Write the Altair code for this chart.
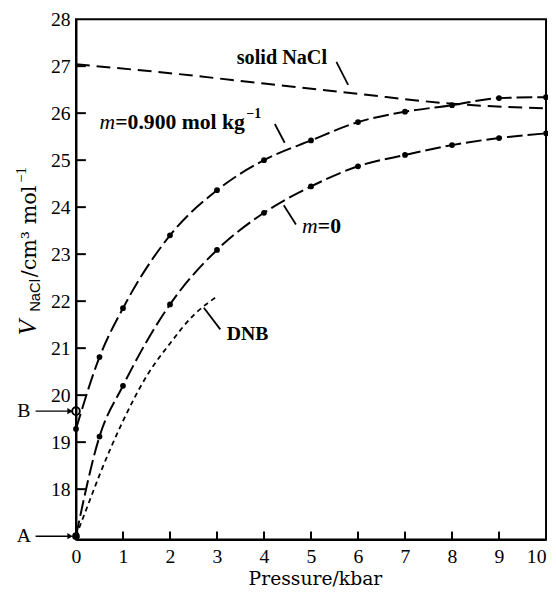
import altair as alt
import pandas as pd

# ---- data ----
P_M09 = [0, 0.5, 1, 2, 3, 4, 5, 6, 7, 8, 9, 10]
V_M09 = [19.28, 20.81, 21.85, 23.40, 24.36, 25.00, 25.42, 25.81, 26.03, 26.17, 26.32, 26.34]
P_M0 = [0, 0.5, 1, 2, 3, 4, 5, 6, 7, 8, 9, 10]
V_M0 = [17.0, 19.12, 20.2, 21.93, 23.09, 23.88, 24.44, 24.87, 25.11, 25.32, 25.47, 25.57]
P_SOLID = [0, 2, 4, 6, 8, 10]
V_SOLID = [27.04, 26.85, 26.63, 26.41, 26.2, 26.1]
P_DNB = [0, 0.25, 0.5, 0.75, 1.0, 1.5, 2.0, 2.5, 3.0]
V_DNB = [17.0, 17.65, 18.3, 18.9, 19.45, 20.4, 21.1, 21.7, 22.1]
POINT_LABELS = ["A", "B"]
POINT_V = [17.0, 19.66]
Y_TICKS = [18, 19, 20, 21, 22, 23, 24, 25, 26, 27, 28]
X_TICKS = [0, 1, 2, 3, 4, 5, 6, 7, 8, 9, 10]

# annotation labels and pointer lines (data coordinates)
LABEL_TEXT = ["solid NaCl", "DNB"]
LABEL_P = [3.42, 3.21]
LABEL_V = [27.17, 21.29]
LABEL_SIZE = [20.5, 20]
PTR_P = [5.54, 4.23, 4.42, 2.72]
PTR_V = [27.09, 25.77, 24.04, 21.86]
PTR_P2 = [5.79, 4.44, 4.68, 3.07]
PTR_V2 = [26.6, 25.37, 23.63, 21.4]

W, H = 477, 528
SERIF = "Liberation Serif"

xs = alt.Scale(domain=[0, 10], nice=False, zero=False)
ys = alt.Scale(domain=[16.93, 28], nice=False, zero=False)
xaxis = alt.Axis(values=X_TICKS, ticks=False, grid=False, labelFlush=False,
                 labelAlign={"condition": {"test": "datum.value >= 10", "value": "right"},
                             "value": "center"},
                 labelFont=SERIF, labelFontSize=20, labelPadding=7, labelColor="black",
                 domainColor="black", domainWidth=2, title="Pressure/kbar",
                 titleFont="DejaVu Serif", titleFontSize=19, titleFontWeight="normal",
                 titleColor="black", titlePadding=4, titleX=W / 2 + 4)
yaxis = alt.Axis(values=Y_TICKS, ticks=False, grid=False, labelFont=SERIF,
                 labelFontSize=20, labelPadding=6, labelColor="black",
                 domainColor="black", domainWidth=2, title="")
X = alt.X("p:Q", scale=xs, axis=xaxis)
Y = alt.Y("v:Q", scale=ys, axis=yaxis)


def df(p, v, **extra):
    d = pd.DataFrame({"p": p, "v": v})
    for k, val in extra.items():
        d[k] = val
    return d


m09 = df(P_M09, V_M09)
m0 = df(P_M0, V_M0)
solid = df(P_SOLID, V_SOLID)
dnb = df(P_DNB, V_DNB)

line_m09 = alt.Chart(m09).mark_line(color="black", strokeWidth=2, strokeDash=[16, 5],
                                    interpolate="monotone").encode(x=X, y=Y)
pts_m09 = alt.Chart(m09).mark_circle(color="black", size=34, opacity=1).encode(x=X, y=Y)
line_m0 = alt.Chart(m0).mark_line(color="black", strokeWidth=2, strokeDash=[16, 5],
                                  interpolate="monotone").encode(x=X, y=Y)
pts_m0 = alt.Chart(m0).mark_circle(color="black", size=34, opacity=1).encode(x=X, y=Y)
line_solid = alt.Chart(solid).mark_line(color="black", strokeWidth=2, strokeDash=[14, 7],
                                        interpolate="monotone").encode(x=X, y=Y)
line_dnb = alt.Chart(dnb).mark_line(color="black", strokeWidth=1.8, strokeDash=[5, 4],
                                    interpolate="monotone").encode(x=X, y=Y)

ab = df([0, 0], POINT_V, label=POINT_LABELS)
pt_a = alt.Chart(ab.iloc[[0]]).mark_circle(color="black", size=60, opacity=1).encode(x=X, y=Y)
pt_b = alt.Chart(ab.iloc[[1]]).mark_point(color="black", size=60, strokeWidth=2,
                                          filled=False, opacity=1).encode(x=X, y=Y)
ab_text = alt.Chart(ab).mark_text(font=SERIF, fontSize=20, align="center",
                                  baseline="middle", color="black").encode(
    x=alt.value(-53), y=Y, text="label:N")
ab_arrow = alt.Chart(ab).mark_rule(color="black", strokeWidth=1.5).encode(
    x=alt.value(-41), x2=alt.value(-7), y=Y)
ab_head = alt.Chart(ab).mark_point(shape="triangle-right", filled=True, color="black",
                                   size=40, opacity=1).encode(x=alt.value(-6), y=Y)

# inward ticks
yt = alt.Chart(df([0] * 10, Y_TICKS[:10])).mark_rule(color="black", strokeWidth=2).encode(
    x=alt.value(0), x2=alt.value(10), y=Y)
xt = alt.Chart(df(X_TICKS[1:10], [17] * 9)).mark_rule(color="black", strokeWidth=2).encode(
    x=X, y=alt.value(H), y2=alt.value(H - 8))

label_layers = []
for t, p, v, s in zip(LABEL_TEXT, LABEL_P, LABEL_V, LABEL_SIZE):
    label_layers.append(
        alt.Chart(df([p], [v], text=[t])).mark_text(
            font=SERIF, fontSize=s, fontWeight="bold", align="left", baseline="middle",
            color="black").encode(x=X, y=Y, text="text:N"))

m0_m = alt.Chart(df([4.81], [23.6])).mark_text(font=SERIF, fontSize=22, fontStyle="italic",
                                               align="left", baseline="middle",
                                               color="black").encode(x=X, y=Y, text=alt.value("m"))
m0_rest = alt.Chart(df([4.81], [23.6])).mark_text(font=SERIF, fontSize=22, fontWeight="bold",
                                                  align="left", baseline="middle", dx=16,
                                                  color="black").encode(x=X, y=Y, text=alt.value("=0"))
m9_m = alt.Chart(df([0.5], [25.8])).mark_text(font=SERIF, fontSize=22, fontStyle="italic",
                                              align="left", baseline="middle",
                                              color="black").encode(x=X, y=Y, text=alt.value("m"))
m9_rest = alt.Chart(df([0.5], [25.8])).mark_text(font=SERIF, fontSize=22, fontWeight="bold",
                                                 align="left", baseline="middle", dx=16,
                                                 color="black").encode(
    x=X, y=Y, text=alt.value("=0.900 mol kg"))
m9_sup = alt.Chart(df([0.5], [25.8])).mark_text(font=SERIF, fontSize=14, fontWeight="bold",
                                                align="left", baseline="middle", dx=149, dy=-9,
                                                color="black").encode(x=X, y=Y, text=alt.value("−1"))

ptr = pd.DataFrame({"p": PTR_P, "v": PTR_V, "p2": PTR_P2, "v2": PTR_V2})
pointers = alt.Chart(ptr).mark_rule(color="black", strokeWidth=1.8).encode(
    x=X, y=Y, x2="p2:Q", y2="v2:Q")

# y-axis title pieces (rotated, reading upward)
ref = df([0], [17])
t_v = alt.Chart(ref).mark_text(font=SERIF, fontSize=26, fontStyle="italic", angle=270,
                               align="left", baseline="alphabetic", color="black").encode(
    x=alt.value(-41), y=alt.value(321), text=alt.value("V"))
t_nacl = alt.Chart(ref).mark_text(font="Liberation Sans", fontSize=15, angle=270,
                                  align="left", baseline="alphabetic", color="black").encode(
    x=alt.value(-37), y=alt.value(297), text=alt.value("NaCl"))
t_unit = alt.Chart(ref).mark_text(font="DejaVu Serif", fontSize=21, angle=270,
                                  align="left", baseline="alphabetic", color="black").encode(
    x=alt.value(-41), y=alt.value(262), text=alt.value("/cm³ mol"))
t_sup = alt.Chart(ref).mark_text(font=SERIF, fontSize=15, angle=270,
                                 align="left", baseline="alphabetic", color="black").encode(
    x=alt.value(-51), y=alt.value(166), text=alt.value("−1"))

chart = alt.layer(
    line_solid, line_dnb, line_m0, line_m09, pts_m0, pts_m09, pt_a, pt_b,
    yt, xt, pointers, *label_layers, m0_m, m0_rest, m9_m, m9_rest, m9_sup,
    ab_text, ab_arrow, ab_head, t_v, t_nacl, t_unit, t_sup
).properties(
    width=W, height=H,
    autosize=alt.AutoSizeParams(type="none"),
    padding={"left": 69, "top": 7, "right": 2, "bottom": 48},
    background="white",
).configure_view(stroke="black", strokeWidth=2)

chart.save("out.html", embed_options={"renderer": "svg", "actions": False})
